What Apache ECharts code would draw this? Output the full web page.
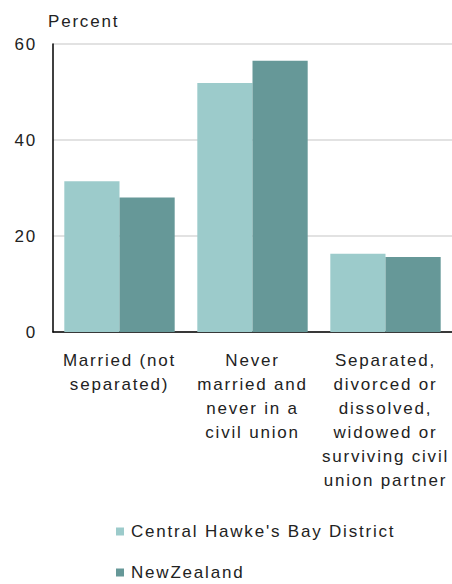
<!DOCTYPE html>
<html><head><meta charset="utf-8">
<script src="https://cdn.jsdelivr.net/npm/echarts@6/dist/echarts.min.js"></script>
<style>html,body{margin:0;padding:0;background:#fff}#c{width:452px;height:584px}#c text{letter-spacing:1.8px}</style>
</head><body><div id="c"></div>
<script>
var categories = ["Married (not\nseparated)", "Never\nmarried and\nnever in a\ncivil union", "Separated,\ndivorced or\ndissolved,\nwidowed or\nsurviving civil\nunion partner"];
var seriesNames = ["Central Hawke's Bay District", "NewZealand"];
var districtValues = [31.4, 51.9, 16.3];
var nzValues = [28.0, 56.5, 15.6];
var yTicks = [0, 20, 40, 60];

var font = "Liberation Sans, Arial, sans-serif";
var chart = echarts.init(document.getElementById('c'), null, {renderer: 'svg'});
chart.setOption({
  animation: false,
  title: {text: 'Percent', left: 48, top: 13, padding: 0, textStyle: {fontFamily: font, fontSize: 17, lineHeight: 17, fontWeight: 'normal', color: '#222'}},
  grid: {left: 53, right: 0, top: 44, bottom: 252, containLabel: false},
  legend: {
    orient: 'vertical', left: 116, top: 523, height: 61, itemGap: 24, itemWidth: 8, itemHeight: 8,
    icon: 'rect', data: seriesNames, padding: 0,
    textStyle: {fontFamily: font, fontSize: 17, lineHeight: 17, color: '#222', padding: [0,0,0,2]}
  },
  xAxis: {
    type: 'category', data: categories,
    axisLine: {lineStyle: {color: '#000', width: 1.5}},
    axisTick: {show: false},
    axisLabel: {interval: 0, fontFamily: font, fontSize: 17, color: '#222', lineHeight: 24.1, margin: 16}
  },
  yAxis: {
    type: 'value', min: yTicks[0], max: yTicks[yTicks.length-1], interval: 20,
    axisLine: {show: true, lineStyle: {color: '#000', width: 1.5}},
    axisTick: {show: false},
    axisLabel: {fontFamily: font, fontSize: 17, color: '#222', margin: 16},
    splitLine: {lineStyle: {color: '#d9d9d9', width: 1.5}}
  },
  series: [
    {name: seriesNames[0], type: 'bar', data: districtValues, barGap: '0%', barCategoryGap: '17%', itemStyle: {color: '#9ccbcb'}},
    {name: seriesNames[1], type: 'bar', data: nzValues, itemStyle: {color: '#669898'}}
  ]
});
</script></body></html>
